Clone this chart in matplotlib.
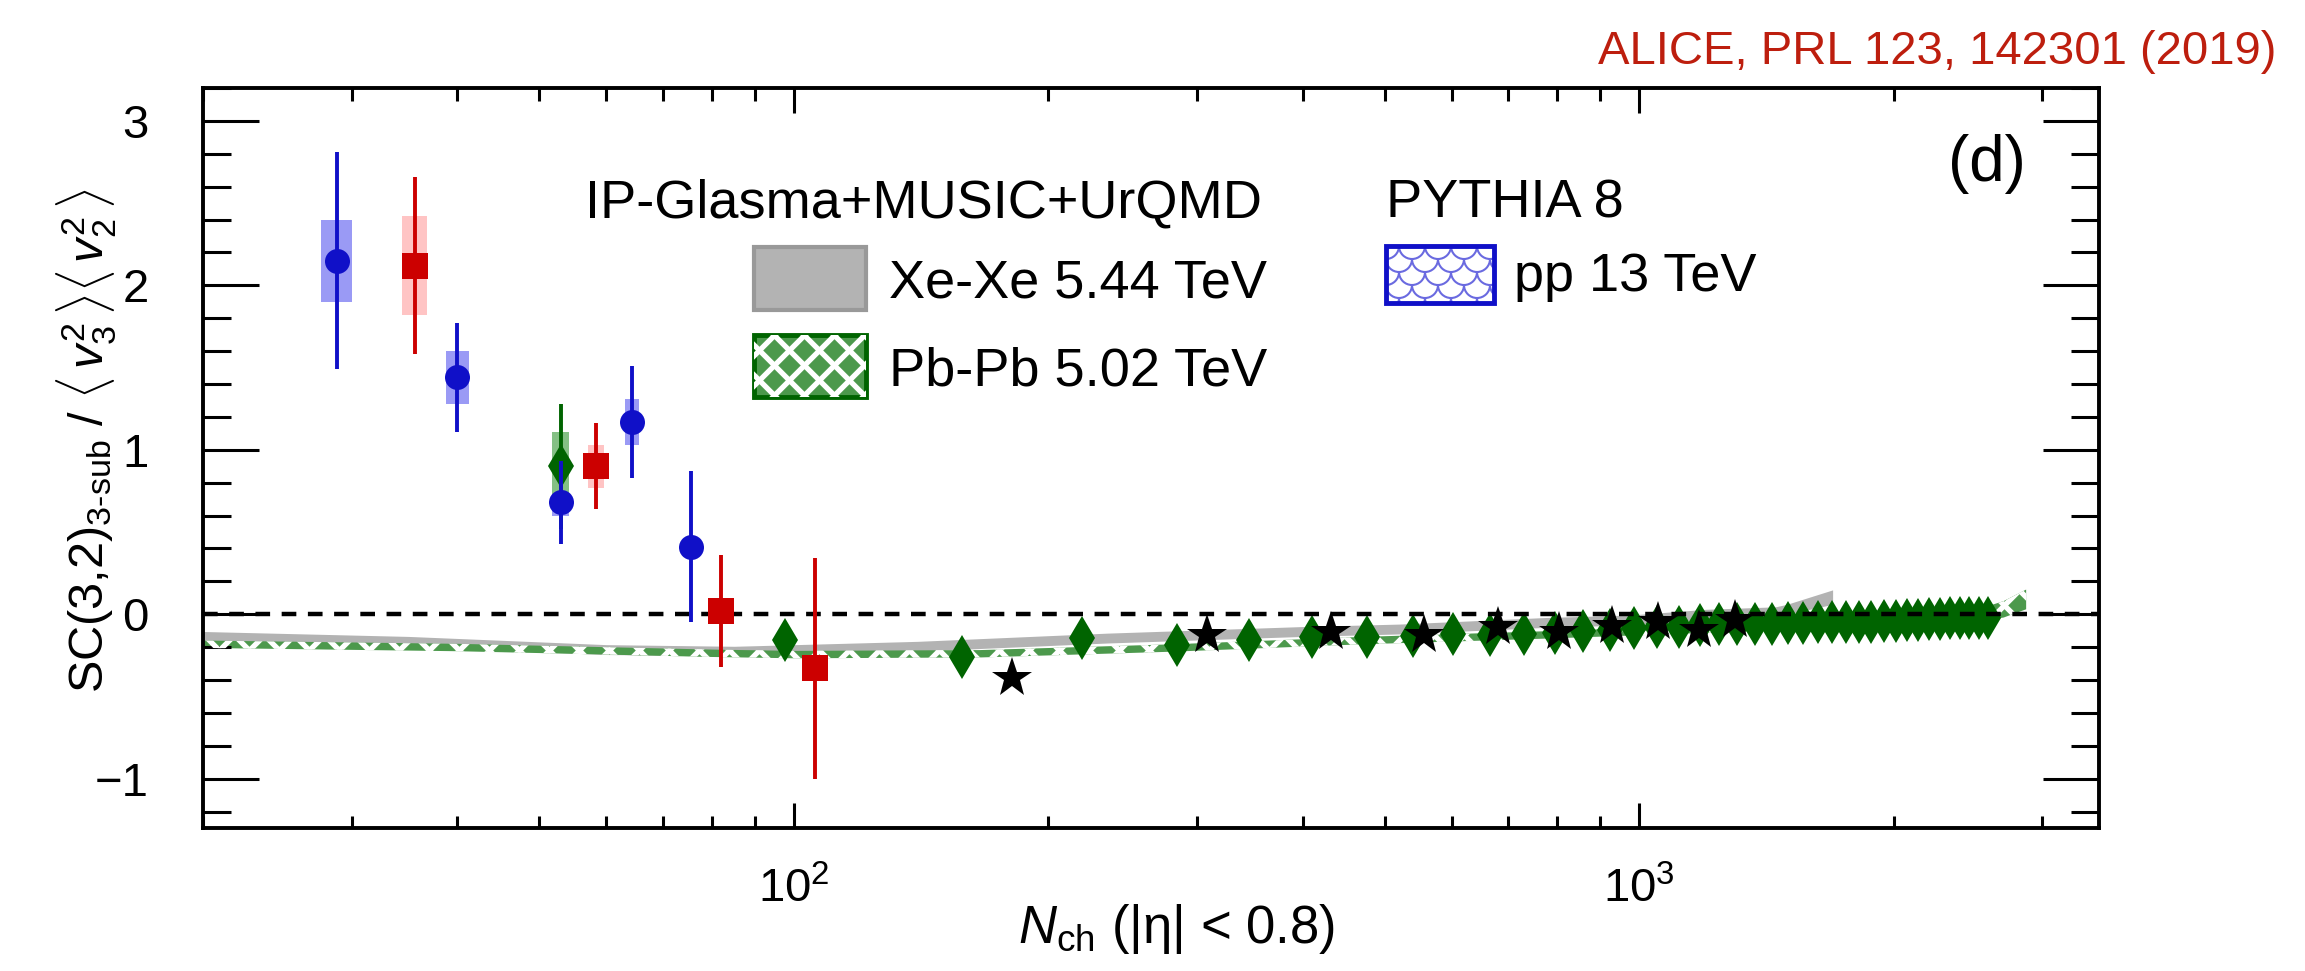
import matplotlib
matplotlib.use('Agg')
import matplotlib.pyplot as plt
from matplotlib.patches import Rectangle, Arc
from matplotlib.collections import LineCollection
from matplotlib.transforms import IdentityTransform
from matplotlib.ticker import LogLocator, MultipleLocator, NullFormatter, LogFormatterMathtext
import numpy as np

plt.rcParams['font.family'] = ['Liberation Sans', 'DejaVu Sans']
plt.rcParams['mathtext.fontset'] = 'custom'
plt.rcParams['mathtext.rm'] = 'Liberation Sans'
plt.rcParams['mathtext.it'] = 'Liberation Sans:italic'
plt.rcParams['mathtext.bf'] = 'Liberation Sans:bold'

W, H = 2305, 971

# pp 13 TeV (blue circles)
pp_x = [28.8, 40.0, 53.0, 64.4, 75.5]
pp_y = [2.15, 1.44, 0.68, 1.17, 0.41]
pp_stat = [0.66, 0.33, 0.25, 0.34, 0.46]
pp_sys = [0.25, 0.16, 0.08, 0.14, 0.0]

# p-Pb (red squares)
ppb_x = [35.6, 58.4, 81.9, 105.8]
ppb_y = [2.12, 0.90, 0.02, -0.33]
ppb_stat = [0.54, 0.26, 0.34, 0.67]
ppb_sys = [0.30, 0.13, 0.0, 0.0]

# Pb-Pb (green diamonds)
pbpb_x = [53.0, 97.5, 158, 219, 284, 346, 410, 476, 540, 603, 667, 731, 795,
          859, 923, 987, 1051, 1115, 1179, 1243, 1307, 1371, 1435, 1499, 1563,
          1627, 1691, 1755, 1819, 1883, 1947, 2011, 2075, 2139, 2203, 2267,
          2331, 2395, 2459, 2523, 2587]
pbpb_y = [0.90, -0.154, -0.26, -0.146, -0.19, -0.158, -0.14, -0.14, -0.13,
          -0.12, -0.125, -0.12, -0.115, -0.105, -0.095, -0.085, -0.08, -0.075,
          -0.065, -0.06, -0.06, -0.06, -0.058, -0.055, -0.055, -0.05, -0.05,
          -0.048, -0.045, -0.045, -0.04, -0.04, -0.035, -0.035, -0.03, -0.03,
          -0.025, -0.025, -0.025, -0.02, -0.02]
pbpb_stat0 = 0.38
pbpb_sys0 = 0.21

# Xe-Xe (black stars)
xexe_x = [181, 308, 432, 556, 681, 805, 929, 1053, 1177, 1298]
xexe_y = [-0.385, -0.126, -0.11, -0.128, -0.08, -0.11, -0.07, -0.047, -0.095, -0.033]

# IP-Glasma+MUSIC+UrQMD Xe-Xe band
xexe_mod_x = [20, 35, 60, 85, 140, 235, 400, 520, 775, 975, 1200, 1450, 1495, 1694]
xexe_mod_lo = [-0.165, -0.195, -0.245, -0.255, -0.225, -0.175, -0.135, -0.12,
               -0.08, -0.065, -0.03, -0.015, 0.0, 0.06]
xexe_mod_hi = [-0.105, -0.135, -0.185, -0.195, -0.165, -0.115, -0.075, -0.06,
               -0.02, -0.005, 0.03, 0.045, 0.06, 0.148]

# IP-Glasma+MUSIC+UrQMD Pb-Pb band
pbpb_mod_x = [20, 40, 80, 100, 166, 280, 470, 780, 1200, 1800, 2400, 2700, 2870]
pbpb_mod_lo = [-0.205, -0.225, -0.26, -0.268, -0.263, -0.228, -0.183, -0.148,
               -0.113, -0.083, -0.063, -0.02, 0.03]
pbpb_mod_hi = [-0.16, -0.18, -0.215, -0.223, -0.218, -0.183, -0.138, -0.103,
               -0.068, -0.038, -0.005, 0.08, 0.15]


def fx(px):
    return px / W


def fy(py):
    return 1 - py / H


def white_crosshatch(spacing=30, lw=3.8, z=1.6):
    # diagonal white lines in pixel space, clipped later to a shape
    segs = []
    for c in range(-H, W + H, spacing):
        segs.append([(c, 0), (c + H, H)])
        segs.append([(c, H), (c + H, 0)])
    return LineCollection(segs, colors='white', linewidths=lw,
                          transform=IdentityTransform(), zorder=z)


fig = plt.figure(figsize=(W / 100, H / 100), dpi=100)
ax = fig.add_axes([fx(203), fy(828), (2099 - 203) / W, (828 - 88) / H])
ax.set_xscale('log')
ax.set_xlim(20, 3500)
ax.set_ylim(-1.3, 3.2)

# model bands
ax.fill_between(xexe_mod_x, xexe_mod_lo, xexe_mod_hi, color='#b3b3b3', lw=0, zorder=1)
band = ax.fill_between(pbpb_mod_x, pbpb_mod_lo, pbpb_mod_hi, facecolor='#4c994c',
                       lw=0, zorder=1.5)
hl = white_crosshatch()
ax.add_collection(hl, autolim=False)
hl.set_clip_path(band.get_paths()[0], ax.transData)


# systematic boxes
def sys_boxes(xs, ys, ss, col):
    for x, y, s in zip(xs, ys, ss):
        if s > 0:
            ax.add_patch(Rectangle((x - 1.25, y - s), 2.5, 2 * s, facecolor=col,
                                   edgecolor='none', zorder=2))

sys_boxes(pp_x, pp_y, pp_sys, '#9a9af5')
sys_boxes(ppb_x, ppb_y, ppb_sys, '#ffc4c4')
sys_boxes(pbpb_x[:1], pbpb_y[:1], [pbpb_sys0], '#84c084')

# Pb-Pb
pbpb_err = [pbpb_stat0] + [0.0] * (len(pbpb_x) - 1)
ax.errorbar(pbpb_x, pbpb_y, yerr=pbpb_err, fmt='d', color='#006400', ms=22.5,
            mew=0, elinewidth=2.8, capsize=0, zorder=2.5)

# zero line
ax.axhline(0, color='black', lw=3.2, ls=(0, (3.3, 2.6)), zorder=3)

ax.errorbar(pp_x, pp_y, yerr=pp_stat, fmt='o', color='#1010c8', ms=18,
            mew=0, elinewidth=2.8, capsize=0, zorder=4)
ax.errorbar(ppb_x, ppb_y, yerr=ppb_stat, fmt='s', color='#cc0000', ms=18.5,
            mew=0, elinewidth=2.8, capsize=0, zorder=4)
ax.plot(xexe_x, xexe_y, '*', color='black', ms=30, mew=0, zorder=4)

# axes styling
for sp in ax.spines.values():
    sp.set_linewidth(2.8)
ax.yaxis.set_major_locator(MultipleLocator(1))
ax.yaxis.set_minor_locator(MultipleLocator(0.2))
ax.xaxis.set_major_locator(LogLocator(base=10))
ax.xaxis.set_major_formatter(LogFormatterMathtext())
ax.xaxis.set_minor_locator(LogLocator(base=10, subs=np.arange(2, 10)))
ax.xaxis.set_minor_formatter(NullFormatter())
ax.tick_params(which='both', direction='in', top=True, right=True, width=2.2)
ax.tick_params(axis='y', which='major', length=40, pad=39, labelsize=34)
ax.tick_params(axis='y', which='minor', length=20)
ax.tick_params(axis='x', which='major', length=18, pad=28, labelsize=34)
ax.tick_params(axis='x', which='minor', length=9)

# axis titles
fig.text(fx(104), fy(441),
         r'SC(3,2)$_{\rm 3\text{-}sub}$ / $\langle\,v_{3}^{2}\,\rangle\langle\,v_{2}^{2}\,\rangle$',
         rotation=90, rotation_mode='anchor', ha='center', va='baseline',
         fontsize=35)
fig.text(fx(1177), fy(943), r'$N_{\rm ch}$ (|η| < 0.8)', ha='center',
         va='baseline', fontsize=38)

# title and panel label
fig.text(fx(2276), fy(64), 'ALICE, PRL 123, 142301 (2019)', color='#bd1e0e',
         ha='right', va='baseline', fontsize=34)
fig.text(fx(2026), fy(181), '(d)', ha='right', va='baseline', fontsize=46)

# legend, drawn by hand
fs = 39
fig.text(fx(585), fy(217), 'IP-Glasma+MUSIC+UrQMD', ha='left', va='baseline', fontsize=fs)
fig.text(fx(1386), fy(217), 'PYTHIA 8', ha='left', va='baseline', fontsize=fs)
fig.text(fx(889), fy(297), 'Xe-Xe 5.44 TeV', ha='left', va='baseline', fontsize=fs)
fig.text(fx(889), fy(386), 'Pb-Pb 5.02 TeV', ha='left', va='baseline', fontsize=fs)
fig.text(fx(1514), fy(291), 'pp 13 TeV', ha='left', va='baseline', fontsize=fs)


def fig_rect(x0, y0, x1, y1, **kw):
    r = Rectangle((fx(x0), fy(y1)), (x1 - x0) / W, (y1 - y0) / H,
                  transform=fig.transFigure, **kw)
    fig.add_artist(r)
    return r

fig_rect(754, 247, 866, 310, facecolor='#b3b3b3', edgecolor='#999999', lw=3)
pb_box = fig_rect(754, 335, 866, 397, facecolor='#4c994c', edgecolor='none', lw=0)
lh = white_crosshatch()
fig.add_artist(lh)
lh.set_clip_path(pb_box)
fig_rect(754, 335, 866, 397, facecolor='none', edgecolor='#006400', lw=3.5)

pp_box = fig_rect(1386, 246, 1494, 303, facecolor='white', edgecolor='none', lw=0)
r = 13
for i, cy in enumerate(range(246, 310, 13)):
    off = 0 if i % 2 == 0 else r
    for cx in range(1386 - 2 * r + off, 1494 + 2 * r, 2 * r):
        a = Arc((fx(cx), fy(cy)), 2 * r / W, 2 * r / H, theta1=180, theta2=360,
                transform=fig.transFigure, color='#6a6ae0', lw=1.5)
        fig.add_artist(a)
        a.set_clip_path(pp_box)
fig_rect(1386, 246, 1494, 303, facecolor='none', edgecolor='#1010c8', lw=3.5)

fig.savefig('out.png', dpi=100)
